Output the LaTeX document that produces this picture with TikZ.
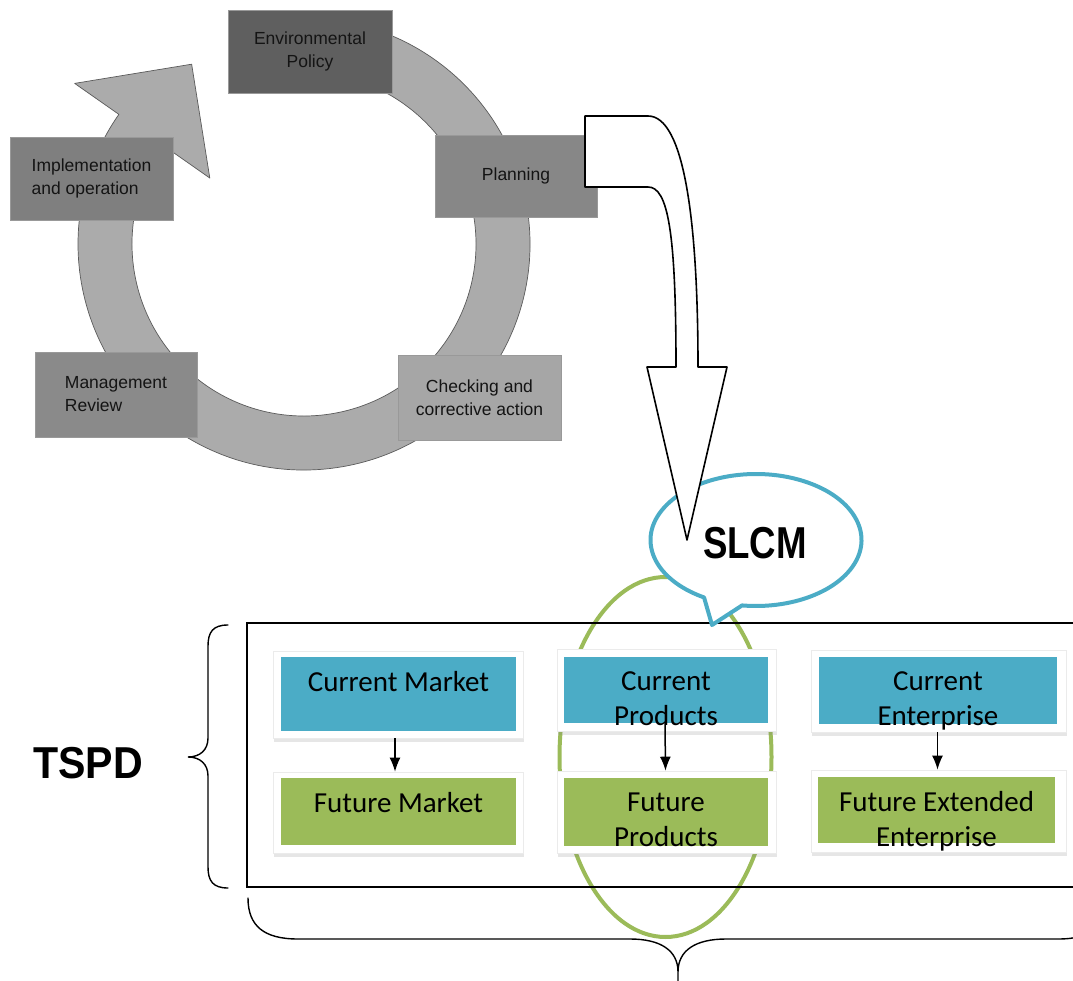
\documentclass[tikz,border=0pt]{standalone}
\usepackage{fontspec}
\usepackage{tikz}
\usetikzlibrary{arrows.meta,shadows}
\newfontfamily\arialf{Liberation Sans}
\newfontfamily\calibf{Carlito}
\newfontfamily\narrowf[FakeStretch=0.82]{Liberation Sans}
\newfontfamily\tspdf[FakeStretch=0.92]{Liberation Sans}
\definecolor{envc}{HTML}{5F5F5F}
\definecolor{implc}{HTML}{7F7F7F}
\definecolor{planc}{HTML}{878787}
\definecolor{mgmtc}{HTML}{8A8A8A}
\definecolor{checkc}{HTML}{A6A6A6}
\definecolor{ringc}{HTML}{ABABAB}
\definecolor{ringline}{HTML}{5A5A5A}
\definecolor{curc}{HTML}{4BACC6}
\definecolor{futc}{HTML}{9BBB59}
\tikzset{
  ring/.style={fill=ringc, draw=ringline, line width=0.7pt, line join=round},
  pdca/.style={draw=black!40, line width=0.5pt, text=black!92, align=center, inner sep=0pt,
    font=\arialf\fontsize{17.5}{23}\selectfont},
  card/.style={fill=white, draw=black!8, line width=0.6pt,
    drop shadow={shadow xshift=1pt, shadow yshift=-4pt, opacity=0.2}},
  cur/.style={fill=curc},
  fut/.style={fill=futc},
  boxtext/.style={anchor=north, inner sep=0pt, align=center, font=\calibf\fontsize{29}{35}\selectfont},
  flow/.style={line width=1.5pt, -{Latex[length=14pt,width=11pt]}},
  frame/.style={line width=1.8pt},
  brace/.style={line width=1.4pt, line cap=round},
  bigarrow/.style={fill=white, draw=black, line width=1.6pt, line join=round},
  callout/.style={fill=white, draw=curc, line width=4pt, line join=round},
  scopering/.style={draw=futc, line width=4pt},
}

\begin{document}
\begin{tikzpicture}[x=1pt, y=-1pt]
\useasboundingbox (0,0) rectangle (1073,981);
\coordinate (ctr) at (304,244);
\filldraw[ring] ([shift={(ctr)}]260:226) arc[start angle=260, end angle=575, radius=226]
  -- ([shift={(ctr)}]575:280) -- ([shift={(ctr)}]598:212) -- ([shift={(ctr)}]575:115)
  -- ([shift={(ctr)}]575:172) arc[start angle=575, end angle=260, radius=172] -- cycle;

\node[pdca, fill=envc, minimum width=164pt, minimum height=83pt] (env) at (310,51.5) {Environmental\\Policy};
\node[pdca, fill=planc, minimum width=162pt, minimum height=82pt] (plan) at (516,176) {Planning};
\node[pdca, fill=implc, minimum width=163pt, minimum height=83pt, align=left] (impl) at (91.5,178.5) {Implementation\\and operation};
\node[pdca, fill=mgmtc, minimum width=162pt, minimum height=85pt, align=left] (mgmt) at (116,394.5) {Management\\Review};
\node[pdca, fill=checkc, minimum width=163pt, minimum height=85pt] (check) at (479.5,397.5) {Checking and\\corrective action};

\draw[scopering] (665.5,757) ellipse[x radius=106, y radius=180];
\draw[frame] (1080,623) -| (247,887) -- (1080,887);

\coordinate (slcmc) at (756,540);
\coordinate (tailtip) at (712,625);
\draw[callout] (tailtip) -- ([shift={(slcmc)}]119.5:105.5 and 66)
  arc[start angle=119.5, end angle=457.6, x radius=105.5, y radius=66] -- cycle;
\node[anchor=base, inner sep=0pt, font=\narrowf\bfseries\fontsize{44.7}{50}\selectfont] (slcm) at (755,558) {SLCM};

\draw[bigarrow] (585,116) -- (648,116) .. controls (684,116) and (698,220) .. (698,367)
  -- (727,367) -- (687,540) -- (647,367) -- (676,367)
  .. controls (676,232) and (668,187) .. (648,187) -- (585,187) -- cycle;

\node[card, minimum width=250pt, minimum height=87pt] (cmktcard) at (398,694.5) {};
\node[cur, minimum width=235pt, minimum height=74pt] (cmkt) at (398.5,694) {};
\node[boxtext] at ([yshift=-14pt]cmkt.north) {Current Market};
\node[card, minimum width=250pt, minimum height=81pt] (fmktcard) at (398,812.5) {};
\node[fut, minimum width=235pt, minimum height=67pt] (fmkt) at (398.5,811.5) {};
\node[boxtext] at ([yshift=-14pt]fmkt.north) {Future Market};

\node[card, minimum width=219pt, minimum height=82pt] (cprodcard) at (666.5,690) {};
\node[cur, minimum width=204pt, minimum height=66pt] (cprod) at (666,690) {};
\node[boxtext] at ([yshift=-15pt]cprod.north) {Current\\Products};
\node[card, minimum width=219pt, minimum height=82pt] (fprodcard) at (666.5,812) {};
\node[fut, minimum width=204pt, minimum height=68pt] (fprod) at (666,812) {};
\node[boxtext] at ([yshift=-15pt]fprod.north) {Future\\Products};

\node[card, minimum width=255pt, minimum height=82pt] (centcard) at (938.5,691) {};
\node[cur, minimum width=238pt, minimum height=67pt] (cent) at (938,690.5) {};
\node[boxtext] at ([yshift=-15pt]cent.north) {Current\\Enterprise};
\node[card, minimum width=255pt, minimum height=82pt] (fentcard) at (938.5,811) {};
\node[fut, minimum width=237pt, minimum height=66pt] (fent) at (936.5,810) {};
\node[boxtext] at ([yshift=-14pt]fent.north) {Future Extended\\Enterprise};

\draw[flow] ([xshift=-3pt]cmktcard.south) -- ([xshift=-3pt]fmktcard.north);
\draw[flow] ([xshift=-1pt]cprod.south) -- ([xshift=-1pt]fprodcard.north);
\draw[flow] ([xshift=-1pt]centcard.south) -- ([xshift=-1pt]fentcard.north);

\draw[brace] (228,625) .. controls (213,625) and (208,632) .. (208,646) -- (208,738)
  .. controls (208,750) and (200,757) .. (188,757) .. controls (200,757) and (208,764) .. (208,776)
  -- (208,867) .. controls (208,881) and (213,888) .. (228,888);
\draw[brace] (248,898) .. controls (248,926) and (264,939) .. (298,939) -- (630,939)
  .. controls (660,939) and (678,950) .. (678,972) -- (678,990)
  (678,972) .. controls (678,950) and (696,939) .. (726,939) -- (1058,939)
  .. controls (1092,939) and (1108,926) .. (1108,898);
\node[anchor=base, inner sep=0pt, font=\tspdf\bfseries\fontsize{44.7}{50}\selectfont] (tspd) at (88,778) {TSPD};
\end{tikzpicture}
\end{document}
